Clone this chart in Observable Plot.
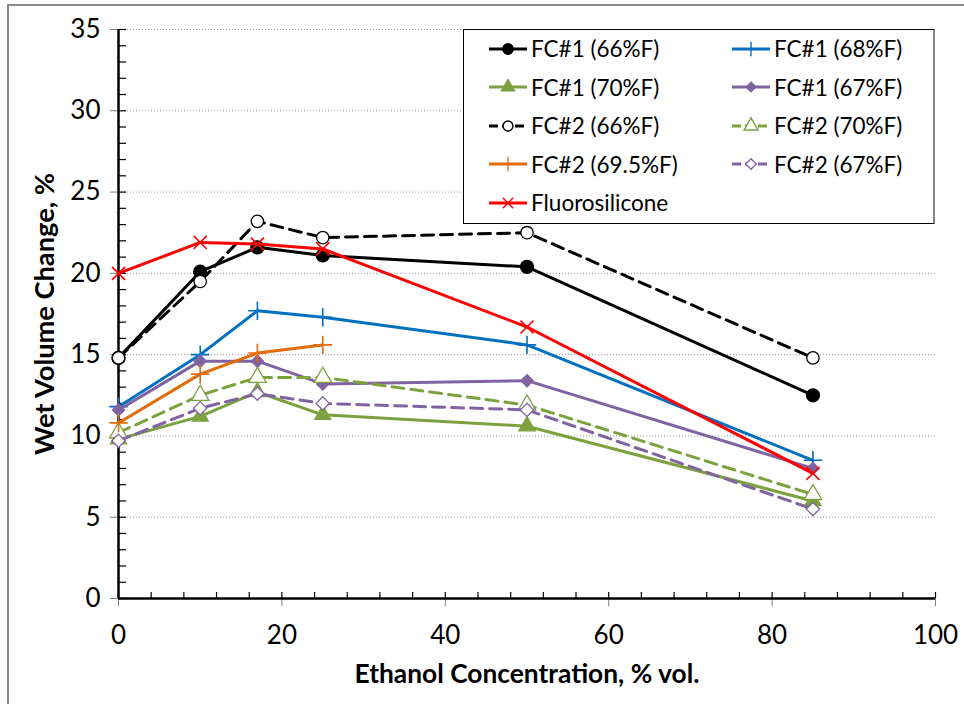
<!DOCTYPE html>
<html><head><meta charset="utf-8">
<script src="https://cdn.jsdelivr.net/npm/d3@7"></script>
<script src="https://cdn.jsdelivr.net/npm/@observablehq/plot@0.6"></script>
<style>
body{margin:0;background:#fff;}
#wrap{position:relative;width:964px;height:704px;overflow:hidden;font-family:Lato,sans-serif;background:#fff;}
#wrap svg{position:absolute;left:0;top:0;}
#frame{position:absolute;left:7px;top:4px;width:980px;height:720px;border-left:2px solid #8a8a8a;border-top:2px solid #8a8a8a;}
#legend{position:absolute;left:463px;top:29px;width:472px;height:195px;background:#fff;border:1.5px solid #000;border-right:2.5px solid #888;box-sizing:border-box;}
.item{position:absolute;height:26px;display:flex;align-items:center;}
.item span{font-size:22.5px;color:#000;white-space:nowrap;margin-left:3px;}
</style></head><body><div id="wrap"><div id="frame"></div></div>
<script>
// ---- data ----
const ethanol = [0, 10, 17, 25, 50, 85];
const fc1_66  = [14.8, 20.1, 21.6, 21.1, 20.4, 12.5];
const fc1_68  = [11.8, 15.0, 17.7, 17.3, 15.6, 8.5];
const fc1_70  = [9.8, 11.2, 12.7, 11.3, 10.6, 6.0];
const fc1_67  = [11.6, 14.6, 14.6, 13.2, 13.4, 8.0];
const fc2_66  = [14.8, 19.5, 23.2, 22.2, 22.5, 14.8];
const fc2_70  = [10.2, 12.5, 13.6, 13.6, 11.9, 6.4];
const fc2_695 = [10.8, 13.8, 15.1, 15.6];
const fc2_67  = [9.7, 11.7, 12.6, 12.0, 11.6, 5.5];
const fluoro  = [20.0, 21.9, 21.8, 21.5, 16.7, 7.7];

const seriesNames = ["FC#1 (66%F)", "FC#1 (68%F)", "FC#1 (70%F)", "FC#1 (67%F)",
  "FC#2 (66%F)", "FC#2 (70%F)", "FC#2 (69.5%F)", "FC#2 (67%F)", "Fluorosilicone"];
const seriesValues = [fc1_66, fc1_68, fc1_70, fc1_67, fc2_66, fc2_70, fc2_695, fc2_67, fluoro];

const xMajor = [0, 20, 40, 60, 80, 100];
const yMajor = [0, 5, 10, 15, 20, 25, 30, 35];
const xTitle = "Ethanol Concentration, % vol.";
const yTitle = "Wet Volume Change, %";

// ---- styles ----
const GREEN = "#7BA23F", PURPLE = "#8064A2";
const styles = [
  {color: "#000000", symbol: "circle",   fill: "#000000", r: 6.5, dash: null},
  {color: "#0070C0", symbol: "plus",     fill: "none",    r: 6,   dash: null},
  {color: GREEN,     symbol: "triangle", fill: GREEN,     r: 6,   dash: null},
  {color: PURPLE,    symbol: "diamond2", fill: PURPLE,    r: 5.5, dash: null},
  {color: "#000000", symbol: "circle",   fill: "#ffffff", r: 6.2, dash: "12,7"},
  {color: GREEN,     symbol: "triangle", fill: "#ffffff", r: 6.5, dash: "12,7"},
  {color: "#E46C0A", symbol: "plus",     fill: "none",    r: 6,   dash: null},
  {color: PURPLE,    symbol: "diamond2", fill: "#ffffff", r: 6,   dash: "12,7"},
  {color: "#FF0000", symbol: "times",    fill: "none",    r: 6,   dash: null}
];

const seriesData = seriesValues.map((vals, i) => vals.map((v, j) => ({series: seriesNames[i], x: ethanol[j], y: v})));

const seriesMarks = seriesData.flatMap((d, i) => {
  const s = styles[i];
  return [
    Plot.line(d, {x: "x", y: "y", stroke: s.color, strokeWidth: 3, strokeDasharray: s.dash, strokeLinejoin: "round"}),
    Plot.dot(d, {x: "x", y: "y", symbol: () => s.symbol, r: s.r,
      stroke: s.color, strokeWidth: s.fill === "none" ? 1.6 : 1.3,
      fill: s.fill === "none" ? "none" : s.fill})
  ];
});

const chart = Plot.plot({
  width: 964, height: 704,
  marginLeft: 118, marginRight: 29, marginTop: 29, marginBottom: 106,
  style: {fontFamily: "Lato, sans-serif", background: "transparent", color: "#000", overflow: "visible"},
  x: {domain: [0, 100]},
  y: {domain: [0, 35]},
  marks: [
    Plot.gridY(yMajor.filter(v => v > 0), {stroke: "#999", strokeOpacity: 1, strokeDasharray: "1,2", strokeWidth: 1}),
    Plot.axisY({ticks: d3.range(0, 36, 1), tickSize: 8, dx: 8, text: null, label: null, stroke: "#000", strokeWidth: 1.2}),
    Plot.axisX({ticks: d3.range(0, 101, 4), tickSize: 6, dy: -6, text: null, label: null, stroke: "#000", strokeWidth: 1.2}),
    Plot.axisY(yMajor, {tickSize: 8, tickPadding: 10, fontSize: 26, stroke: "#808080", fill: "#000",
      label: yTitle, labelAnchor: "center", labelOffset: 84, labelArrow: "none"}),
    Plot.axisX(xMajor, {tickSize: 8, tickPadding: 19, fontSize: 26, stroke: "#808080", fill: "#000",
      label: xTitle, labelAnchor: "center", labelOffset: 84, labelArrow: "none"}),
    Plot.ruleX([0], {stroke: "#000", strokeWidth: 2.5}),
    Plot.ruleY([0], {stroke: "#000", strokeWidth: 2.5}),
    ...seriesMarks
  ]
});

const wrap = document.getElementById("wrap");
wrap.appendChild(chart);

// size the axis titles to the reference widths
function fitText(sel, target) {
  sel.each(function() {
    this.setAttribute("font-weight", "bold");
    this.setAttribute("font-size", 22);
    const w = this.getComputedTextLength();
    if (w > 0) this.setAttribute("font-size", (22 * target / w).toFixed(2));
  });
}
fitText(d3.select(chart).selectAll('g[aria-label="x-axis label"] text'), 345);
fitText(d3.select(chart).selectAll('g[aria-label="y-axis label"] text'), 282);

// ---- legend ----
const legend = d3.select(wrap).append("div").attr("id", "legend");
const symMap = {circle: d3.symbolCircle, plus: d3.symbolPlus, triangle: d3.symbolTriangle,
  diamond2: d3.symbolDiamond2, times: d3.symbolTimes};
seriesNames.forEach((name, i) => {
  const s = styles[i];
  const row = Math.floor(i / 2), col = i % 2;
  const item = legend.append("div").attr("class", "item")
    .style("left", (col ? 267 : 24) + "px")
    .style("top", (20 + row * 38.5 - 13 - 1.5) + "px");
  const svg = item.append("svg").attr("width", 40).attr("height", 20).style("position", "static");
  svg.append("line").attr("x1", 1).attr("x2", 39).attr("y1", 10).attr("y2", 10)
    .attr("stroke", s.color).attr("stroke-width", 3)
    .attr("stroke-dasharray", s.dash ? "9,4" : null);
  svg.append("path").attr("transform", "translate(20,10)")
    .attr("d", d3.symbol(symMap[s.symbol], Math.PI * Math.pow(s.r * 0.8, 2))())
    .attr("fill", s.fill === "none" ? "none" : s.fill)
    .attr("stroke", s.color).attr("stroke-width", 1.4);
  item.append("span").text(name);
});
</script>
</body></html>
